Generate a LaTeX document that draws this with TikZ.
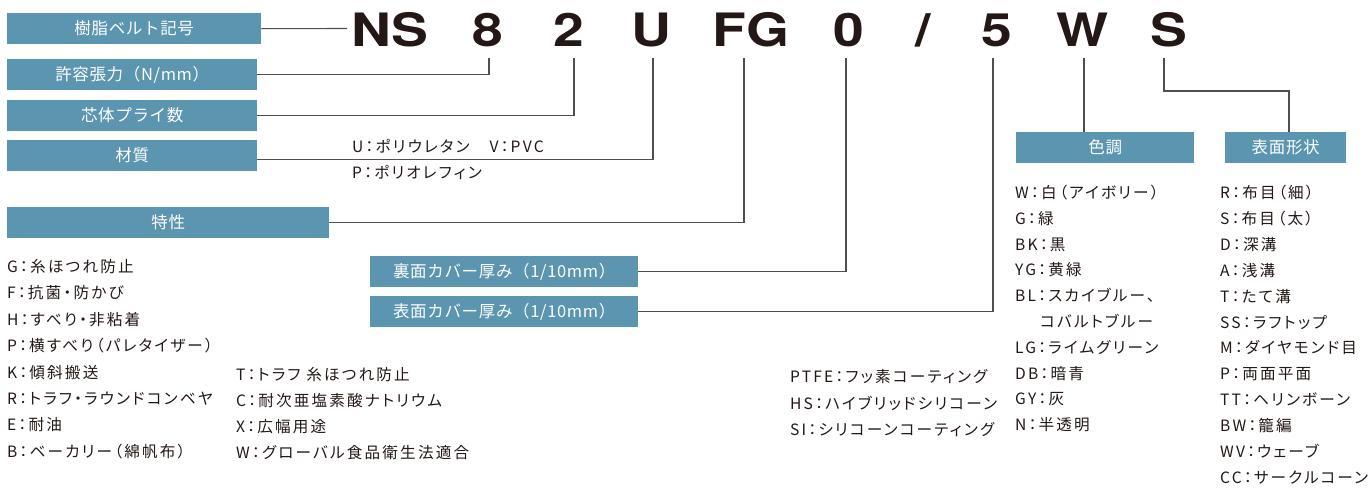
\documentclass[tikz,border=0pt]{standalone}
\usepackage{fontspec}
\newfontfamily\jplist[LetterSpace=14,RawFeature=+palt]{Noto Sans CJK JP}
\newfontfamily\jpbox[LetterSpace=4]{Noto Sans CJK JP}
\newfontfamily\codefont{TeX Gyre Heros}
\definecolor{boxblue}{RGB}{91,149,176}
\definecolor{ink}{RGB}{35,24,21}
\definecolor{linegray}{RGB}{80,78,78}
\tikzset{
  box/.style={fill=boxblue,draw=none,text=white,inner sep=0pt,anchor=north west,
    minimum height=31pt,font=\jpbox\fontsize{16.5}{18}\selectfont},
  code/.style={anchor=base,inner sep=0pt,text=ink,font=\codefont\bfseries\fontsize{46}{46}\selectfont,xscale=1.2},
  item/.style={anchor=base west,inner sep=0pt,text=ink,font=\jplist\fontsize{15.6}{18}\selectfont},
  conn/.style={draw=linegray,line width=1.1pt}
}
\begin{document}
\begin{tikzpicture}[x=1pt,y=-1pt]
\useasboundingbox (0,0) rectangle (1369,493);
% boxes
\node[box,minimum width=254pt] (b1) at (7,13) {樹脂ベルト記号};
\node[box,minimum width=250pt] (b2) at (7,59) {許容張力（N/mm）};
\node[box,minimum width=250pt] (b3) at (7,100) {芯体プライ数};
\node[box,minimum width=250pt] (b4) at (7,140) {材質};
\node[box,minimum width=322pt] (b5) at (7,207) {特性};
\node[box,minimum width=268pt] (b6) at (370,256) {裏面カバー厚み（1/10mm）};
\node[box,minimum width=268pt] (b7) at (370,296) {表面カバー厚み（1/10mm）};
\node[box,minimum width=178pt] (b8) at (1016,132) {色調};
\node[box,minimum width=121pt] (b9) at (1225,132) {表面形状};
% code letters
\node[code] (cNS) at (390,46.5) {NS};
\node[code] (c8) at (488,46.5) {8};
\node[code] (c2) at (569,46.5) {2};
\node[code] (cU) at (651,46.5) {U};
\node[code] (cFG) at (751,46.5) {FG};
\node[code] (c0) at (849,46.5) {0};
\node[code] (cs) at (923,46.5) {/};
\node[code] (c5) at (997,46.5) {5};
\node[code] (cW) at (1083,46.5) {W};
\node[code] (cS) at (1169,46.5) {S};
% connector ends
\coordinate (eNS) at (347,28.5);
\coordinate (t8) at (489,58);
\coordinate (t2) at (574,58);
\coordinate (tU) at (653,58);
\coordinate (tFG) at (744,58);
\coordinate (t0) at (846,58);
\coordinate (t5) at (993,58);
\coordinate (tW) at (1084,58);
\coordinate (tS) at (1164,58);
\coordinate (sk) at (1289,91);
\draw[conn] (b1.east) -- (eNS);
\draw[conn] (b2.east) -| (t8);
\draw[conn] (b3.east) -| (t2);
\draw[conn] ([yshift=-3.5pt]b4.east) -| (tU);
\draw[conn] (b5.east) -| (tFG);
\draw[conn] (b6.east) -| (t0);
\draw[conn] (b7.east) -| (t5);
\draw[conn] (tW) -- (tW |- b8.north);
\draw[conn] (tS) |- (sk) -- (sk |- b9.north);
% material text
\node[item] (m1) at (352,152.5) {U：ポリウレタン　V：PVC};
\node[item] (m2) at (352,178.5) {P：ポリオレフィン};
% characteristics
\foreach \t [count=\i] in {G：糸ほつれ防止,F：抗菌・防かび,H：すべり・非粘着,P：横すべり\,（パレタイザー）,K：傾斜搬送,R：トラフ・ラウンドコンベヤ,E：耐油,B：ベーカリー（綿帆布）}
  \node[item] (ka\i) at (7,{272.5+(\i-1)*26.4}) {\t};
\foreach \t [count=\i] in {T：トラフ 糸ほつれ防止,C：耐次亜塩素酸ナトリウム,X：広幅用途,W：グローバル食品衛生法適合}
  \node[item] (kb\i) at (236,{380.5+(\i-1)*26}) {\t};
\foreach \t [count=\i] in {PTFE：フッ素コーティング,HS：ハイブリッドシリコーン,SI：シリコーンコーティング}
  \node[item] (kc\i) at (790,{382.5+(\i-1)*26.5}) {\t};
% colours
\foreach \t [count=\i] in {W：白\,（アイボリー）,G：緑,BK：黒,YG：黄緑,BL：スカイブルー、}
  \node[item] (col\i) at (1015,{198.5+(\i-1)*25.8}) {\t};
\node[item] (colx) at (1040,{198.5+5*25.8}) {コバルトブルー};
\foreach \t [count=\i] in {LG：ライムグリーン,DB：暗青,GY：灰,N：半透明}
  \node[item] (coly\i) at (1015,{198.5+(\i+5)*25.8}) {\t};
% surface
\foreach \t [count=\i] in {R：布目\,（細）,S：布目\,（太）,D：深溝,A：浅溝,T：たて溝,SS：ラフトップ,M：ダイヤモンド目,P：両面平面,TT：ヘリンボーン,BW：籠編,WV：ウェーブ,CC：サークルコーン}
  \node[item] (sf\i) at (1220,{198.5+(\i-1)*25.9}) {\t};
\end{tikzpicture}
\end{document}
